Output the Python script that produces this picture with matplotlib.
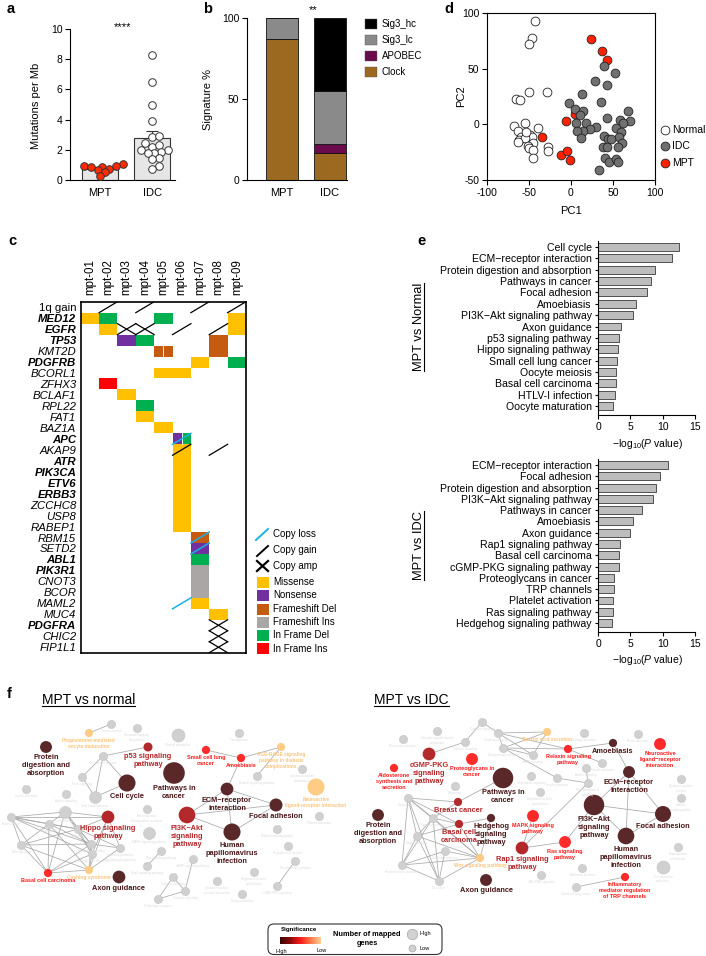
import numpy as np
import matplotlib
matplotlib.use('Agg')
import matplotlib.pyplot as plt
from matplotlib.patches import Rectangle, FancyBboxPatch
from matplotlib.colors import LinearSegmentedColormap

plt.rcParams['font.family'] = ['Liberation Sans', 'DejaVu Sans']
plt.rcParams['mathtext.fontset'] = 'custom'
plt.rcParams['mathtext.rm'] = 'Liberation Sans'
plt.rcParams['mathtext.it'] = 'Liberation Sans:italic'
plt.rcParams['mathtext.bf'] = 'Liberation Sans:bold'
plt.rcParams['axes.unicode_minus'] = False
plt.rcParams['axes.linewidth'] = 0.8
for _a in ('xtick', 'ytick'):
    plt.rcParams[_a + '.major.width'] = 0.8
    plt.rcParams[_a + '.major.size'] = 3
    plt.rcParams[_a + '.labelsize'] = 7.5
    plt.rcParams[_a + '.direction'] = 'out'

# ======================= DATA =======================
# --- panel a: mutations per Mb
mut_groups = ['MPT', 'IDC']
mpt_mut = [1.04, 0.95, 0.88, 0.73, 0.66, 0.85, 0.51, 0.29, 0.90]
idc_mut = [8.3, 6.5, 5.0, 3.93, 2.87, 2.9, 2.43, 2.2, 2.3, 2.0, 1.98, 1.83,
           1.77, 1.8, 1.43, 1.37, 0.93, 0.75]

# --- panel b: signatures (%)
sig_groups = ['MPT', 'IDC']
sig_clock = [87, 16.5]
sig_apobec = [0, 5.5]
sig_lc = [13, 33]
sig_hc = [0, 45]

# --- panel d: PCA
normal_pc1 = [-43.1, -46.3, -49.9, -49.9, -28.4, -65.8, -60.2, -67.8, -63, -54.3, -39.2,
              -59, -61.8, -49, -46.3, -55, -45, -51, -50, -45, -45, -27, -27, -63, -53]
normal_pc2 = [92.5, 77.5, 72, 28.6, 28.9, 22.9, 22, -1.4, -5.6, 1.6, -2.9,
              -11, -14, -9.5, -11, -12.5, -16.4, -19.4, -21.5, -23, -30, -20, -23.6, -15.5, -6.5]
idc_pc1 = [39.6, 52.3, 28.4, 43.1, 12.5, 35.2, -2.2, 4.6, 14.5, 10.5, 5.8, 17.7, 29.2, 22.5,
           13.7, 7.7, 11.7, 42.3, 68.2, 58.3, 70, 61.7, 54, 59, 56.9, 39.6, 43.5, 38.4, 47.5,
           60.2, 56.1, 43.3, 40.4, 45.6, 53.5, 56.1, 33.6]
idc_pc2 = [52, 46, 38.5, 35.2, 27.4, 20.5, 19.6, 13.6, 12.4, 8.5, 1, 1, -2, -4.4,
           -5.6, -5.9, -11.9, 5.5, 12.1, 4, 3.4, 1.6, -3.5, -6.5, -11, -10.4, -13.4, -20.6, -13.4,
           -17, -20.6, -20, -30.5, -33.5, -31.4, -34, -41]
mpt_pc1 = [23.3, 37.2, 42.3, -6.2, 4.6, -34.8, -12.5, -4.6, -1.4]
mpt_pc2 = [76.9, 66.1, 58, 3.1, 9.1, -11, -27.5, -23.9, -32]

# --- panel c: oncoprint
samples = ['mpt-01', 'mpt-02', 'mpt-03', 'mpt-04', 'mpt-05', 'mpt-06', 'mpt-07', 'mpt-08', 'mpt-09']
genes = ['1q gain', 'MED12', 'EGFR', 'TP53', 'KMT2D', 'PDGFRB', 'BCORL1', 'ZFHX3', 'BCLAF1',
         'RPL22', 'FAT1', 'BAZ1A', 'APC', 'AKAP9', 'ATR', 'PIK3CA', 'ETV6', 'ERBB3', 'ZCCHC8',
         'USP8', 'RABEP1', 'RBM15', 'SETD2', 'ABL1', 'PIK3R1', 'CNOT3', 'BCOR', 'MAML2', 'MUC4',
         'PDGFRA', 'CHIC2', 'FIP1L1']
bold_genes = ['MED12', 'EGFR', 'TP53', 'PDGFRB', 'APC', 'ATR', 'PIK3CA', 'ETV6', 'ERBB3',
              'ABL1', 'PIK3R1', 'PDGFRA']
# (gene, sample, type, part: F=full, L=left half, R=right half)
mutations = [
    ('MED12', 'mpt-01', 'Missense', 'F'), ('MED12', 'mpt-02', 'In Frame Del', 'F'),
    ('MED12', 'mpt-05', 'In Frame Del', 'F'), ('MED12', 'mpt-09', 'Missense', 'F'),
    ('EGFR', 'mpt-02', 'Missense', 'F'), ('EGFR', 'mpt-09', 'Missense', 'F'),
    ('TP53', 'mpt-03', 'Nonsense', 'F'), ('TP53', 'mpt-04', 'In Frame Del', 'F'),
    ('TP53', 'mpt-08', 'Frameshift Del', 'F'),
    ('KMT2D', 'mpt-05', 'Frameshift Del', 'L'), ('KMT2D', 'mpt-05', 'Frameshift Del', 'R'),
    ('KMT2D', 'mpt-08', 'Frameshift Del', 'F'),
    ('PDGFRB', 'mpt-07', 'Missense', 'F'), ('PDGFRB', 'mpt-09', 'In Frame Del', 'F'),
    ('BCORL1', 'mpt-05', 'Missense', 'F'), ('BCORL1', 'mpt-06', 'Missense', 'F'),
    ('ZFHX3', 'mpt-02', 'In Frame Ins', 'F'), ('BCLAF1', 'mpt-03', 'Missense', 'F'),
    ('RPL22', 'mpt-04', 'In Frame Del', 'F'), ('FAT1', 'mpt-04', 'Missense', 'F'),
    ('BAZ1A', 'mpt-05', 'Missense', 'F'),
    ('APC', 'mpt-06', 'Nonsense', 'L'), ('APC', 'mpt-06', 'In Frame Del', 'R'),
    ('AKAP9', 'mpt-06', 'Missense', 'F'), ('ATR', 'mpt-06', 'Missense', 'F'),
    ('PIK3CA', 'mpt-06', 'Missense', 'F'), ('ETV6', 'mpt-06', 'Missense', 'F'),
    ('ERBB3', 'mpt-06', 'Missense', 'F'), ('ZCCHC8', 'mpt-06', 'Missense', 'F'),
    ('USP8', 'mpt-06', 'Missense', 'F'), ('RABEP1', 'mpt-06', 'Missense', 'F'),
    ('RBM15', 'mpt-07', 'Frameshift Del', 'F'), ('SETD2', 'mpt-07', 'Nonsense', 'F'),
    ('ABL1', 'mpt-07', 'In Frame Del', 'F'), ('PIK3R1', 'mpt-07', 'Frameshift Ins', 'F'),
    ('CNOT3', 'mpt-07', 'Frameshift Ins', 'F'), ('BCOR', 'mpt-07', 'Frameshift Ins', 'F'),
    ('MAML2', 'mpt-07', 'Missense', 'F'), ('MUC4', 'mpt-08', 'Missense', 'F'),
]
copy_events = [
    ('1q gain', 'mpt-02', 'Copy gain'), ('1q gain', 'mpt-04', 'Copy gain'),
    ('1q gain', 'mpt-07', 'Copy gain'), ('1q gain', 'mpt-09', 'Copy gain'),
    ('EGFR', 'mpt-03', 'Copy amp'), ('EGFR', 'mpt-04', 'Copy amp'),
    ('EGFR', 'mpt-06', 'Copy gain'), ('EGFR', 'mpt-08', 'Copy gain'),
    ('APC', 'mpt-06', 'Copy loss'), ('AKAP9', 'mpt-06', 'Copy gain'),
    ('AKAP9', 'mpt-08', 'Copy gain'), ('RBM15', 'mpt-07', 'Copy loss'),
    ('SETD2', 'mpt-07', 'Copy loss'), ('MAML2', 'mpt-06', 'Copy loss'),
    ('PDGFRA', 'mpt-08', 'Copy amp'), ('CHIC2', 'mpt-08', 'Copy amp'),
    ('FIP1L1', 'mpt-08', 'Copy amp'),
]
mut_types = ['Missense', 'Nonsense', 'Frameshift Del', 'Frameshift Ins', 'In Frame Del', 'In Frame Ins']
cnv_types = ['Copy loss', 'Copy gain', 'Copy amp']

# --- panel e: enrichment
e_normal_terms = ['Cell cycle', 'ECM\u2212receptor interaction', 'Protein digestion and absorption',
                  'Pathways in cancer', 'Focal adhesion', 'Amoebiasis',
                  'PI3K\u2212Akt signaling pathway', 'Axon guidance', 'p53 signaling pathway',
                  'Hippo signaling pathway', 'Small cell lung cancer', 'Oocyte meiosis',
                  'Basal cell carcinoma', 'HTLV-I infection', 'Oocyte maturation']
e_normal_vals = [12.5, 11.45, 8.8, 8.15, 7.5, 5.9, 5.4, 3.6, 3.25, 3.15, 2.9, 2.8, 2.8, 2.6, 2.3]
e_idc_terms = ['ECM\u2212receptor interaction', 'Focal adhesion', 'Protein digestion and absorption',
               'PI3K\u2212Akt signaling pathway', 'Pathways in cancer', 'Amoebiasis', 'Axon guidance',
               'Rap1 signaling pathway', 'Basal cell carcinoma', 'cGMP-PKG signaling pathway',
               'Proteoglycans in cancer', 'TRP channels', 'Platelet activation',
               'Ras signaling pathway', 'Hedgehog signaling pathway']
e_idc_vals = [10.9, 9.6, 9.0, 8.45, 6.8, 5.45, 5.0, 3.45, 3.3, 3.3, 2.5, 2.4, 2.3, 2.3, 2.2]

# --- panel f: networks (layout coordinates, mapped-gene counts, significance class)
n1_label = ['Protein\ndigestion and\nabsorption', 'p53 signaling\npathway', 'Cell cycle',
            'Pathways in\ncancer', 'Small cell lung\ncancer', 'Amoebiasis',
            'ECM\u2212receptor\ninteraction', 'Focal adhesion', 'PI3K\u2212Akt\nsignaling\npathway',
            'Human\npapillomavirus\ninfection', 'Hippo signaling\npathway', 'Basal cell carcinoma',
            'Axon guidance', 'Progesterone-mediated\noocyte maturation',
            'AGE-RAGE signaling\npathway in diabetic\ncomplications',
            'Neuroactive\nligand-receptor interaction', 'Cushing syndrome',
            'Oocyte meiosis', 'Glycosaminoglycan\nbiosynthesis',
            'Mineral absorption', 'Fat digestion', 'Cellular senescence',
            'FoxO signaling', 'Viral carcinogenesis', 'Apelin signaling',
            'Insulin secretion', 'Hepatitis B', 'Breast cancer', 'Gastric cancer', 'Melanoma',
            'Wnt signaling', 'Hedgehog signaling', 'Proteoglycans in cancer',
            'Signaling pathways\nregulating pluripotency', 'Transcriptional\nmisregulation in cancer',
            'MAPK signaling pathway', 'Ras signaling pathway', 'Rap1 signaling pathway',
            'cAMP signaling pathway', 'Calcium signaling', 'Oxytocin signaling',
            'Cholinergic synapse', 'Cytokine\u2212cytokine\nreceptor interaction',
            'Drug metabolism', 'Regulation of actin\ncytoskeleton', 'Dilated cardiomyopathy',
            'Regulation of lipolysis', 'Glutamatergic synapse', 'cGMP-PKG signaling',
            'Platelet activation', 'Inositol phosphate\nmetabolism', 'Relaxin signaling pathway']
n1_x = [46, 148, 127, 174, 206, 241, 227, 276, 187, 232, 108, 48, 119, 89, 281, 316, 89,
        111, 137, 178, 239, 103, 82, 95, 66, 26, 65, 11, 49, 78, 21, 91, 92, 120, 147, 149,
        161, 147, 193, 173, 185, 158, 217, 242, 254, 277, 288, 295, 277, 319, 302, 257]
n1_y = [747, 747, 783, 773, 750, 758, 789, 805, 815, 832, 817, 873, 877, 733, 747, 787, 870,
        724, 728, 735, 733, 756, 777, 797, 794, 789, 812, 817, 824, 829, 845, 844, 854, 848,
        809, 833, 851, 866, 859, 877, 891, 899, 881, 894, 872, 829, 846, 861, 886, 816, 769, 776]
n1_genes = [21, 12, 43, 69, 10, 10, 24, 25, 41, 43, 24, 10, 24, 10, 10, 43, 10,
            10, 10, 25, 10, 10, 10, 21, 10, 10, 21, 10, 10, 10, 10, 10, 10, 10, 10, 21,
            10, 10, 10, 10, 10, 10, 10, 10, 10, 10, 10, 10, 10, 10, 10, 10]
n1_sig = ['dark', 'mid', 'dark', 'dark', 'red', 'red', 'dark', 'dark', 'mid', 'dark', 'mid',
          'red', 'dark', 'low', 'low', 'low', 'low'] + ['ns'] * 35
n1_edges = [(17, 13), (21, 1), (21, 22), (21, 23), (21, 2), (23, 2), (23, 22), (4, 5), (5, 14),
            (14, 51), (5, 6), (6, 8), (6, 7), (6, 9), (8, 7), (8, 9), (9, 7),
            (27, 26), (27, 28), (27, 30), (27, 29), (27, 31), (27, 10), (27, 11), (27, 32),
            (26, 28), (26, 10), (26, 29), (26, 31), (26, 32), (26, 11), (28, 30), (28, 29),
            (28, 31), (28, 11), (28, 16), (30, 11), (30, 29), (30, 31), (29, 31), (29, 10),
            (29, 32), (29, 33), (31, 32), (31, 33), (31, 16), (31, 11), (10, 32), (10, 16),
            (10, 33), (32, 16), (32, 11), (33, 16), (11, 16), (30, 16),
            (36, 37), (38, 40), (39, 40), (39, 41), (41, 40), (47, 48)]

n2_label = ['cGMP-PKG\nsignaling\npathway', 'Aldosterone\nsynthesis and\nsecretion',
            'Proteoglycans in\ncancer', 'Pathways in\ncancer', 'Breast cancer',
            'Hedgehog\nsignaling\npathway', 'Basal cell\ncarcinoma', 'Protein\ndigestion and\nabsorption',
            'Axon guidance', 'Rap1 signaling\npathway', 'MAPK signaling\npathway',
            'Ras signaling\npathway', 'PI3K\u2212Akt\nsignaling\npathway',
            'Human\npapillomavirus\ninfection', 'Focal adhesion', 'ECM\u2212receptor\ninteraction',
            'Amoebiasis', 'Neuroactive\nligand\u2212receptor\ninteraction',
            'Relaxin signaling\npathway', 'Inflammatory\nmediator regulation\nof TRP channels',
            'Gastric acid secretion', 'Wnt signaling pathway',
            'Oxytocin signaling', 'Vascular smooth muscle\ncontraction', 'Pancreatic secretion',
            'Calcium signaling', 'Cholinergic synapse', 'Glutamatergic synapse',
            'cAMP signaling', 'Salivary secretion', 'Renin secretion', 'Platelet activation',
            'Apelin signaling', 'Chemokine signaling', 'Insulin secretion', 'Phospholipase D\nsignaling',
            'Regulation of actin\ncytoskeleton', 'Melanoma', 'Gastric cancer',
            'Signaling pathways', 'Hippo signaling', 'Cushing syndrome',
            'Hepatocellular carcinoma', 'Cell cycle', 'JAK-STAT signaling',
            'Adherens junction', 'Small cell lung cancer', 'Cytokine\u2212cytokine\nreceptor',
            'Dilated\ncardiomyopathy', 'Hematopoietic\ncell lineage', 'Cell adhesion\nmolecules']
n2_x = [429, 394, 472, 503, 458, 491, 459, 378, 486, 522, 533, 565, 594, 626, 663, 629, 613,
        660, 568, 625, 547, 480,
        482, 437, 403, 465, 498, 503, 533, 584, 638, 602, 586, 531, 557, 588, 540, 455, 408,
        433, 417, 445, 402, 439, 541, 582, 576, 681, 681, 678, 663]
n2_y = [754, 768, 759, 778, 802, 818, 824, 815, 880, 848, 816, 842, 805, 836, 814, 772, 743,
        744, 749, 877, 732, 858,
        722, 731, 739, 742, 733, 748, 755, 733, 734, 763, 768, 776, 778, 783, 792, 786, 798,
        818, 836, 851, 865, 881, 875, 868, 887, 779, 798, 847, 867]
n2_genes = [24, 10, 21, 62, 10, 10, 10, 21, 21, 24, 21, 21, 62, 41, 38, 21, 10, 21, 10, 10,
            10, 10] + [10] * 28 + [25]
n2_sig = ['mid', 'red', 'red', 'dark', 'mid', 'dark', 'mid', 'dark', 'dark', 'mid', 'red', 'red',
          'dark', 'dark', 'dark', 'dark', 'dark', 'red', 'red', 'red', 'low', 'low'] + ['ns'] * 29
n2_edges = [(22, 25), (22, 26), (25, 0), (26, 27), (26, 28), (26, 20), (26, 18), (27, 28),
            (27, 20), (27, 18), (27, 34), (28, 20), (18, 16), (18, 31), (16, 15), (32, 35),
            (34, 35), (35, 9), (15, 12), (15, 13), (15, 14), (12, 14), (12, 13), (13, 14),
            (12, 11), (9, 10), (9, 11),
            (38, 39), (38, 40), (38, 42), (38, 43), (38, 4), (38, 6), (38, 21), (39, 40),
            (39, 42), (39, 43), (39, 4), (39, 6), (39, 21), (40, 42), (40, 43), (40, 21),
            (40, 6), (42, 43), (42, 21), (41, 43), (41, 21), (41, 42), (43, 21), (6, 5),
            (4, 3), (6, 21), (5, 21), (46, 19)]

# ======================= FIGURE =======================
W, H = 706, 956
fig = plt.figure(figsize=(W / 100, H / 100), dpi=100)


def axpx(l, t, r, b):
    return fig.add_axes([l / W, 1 - b / H, (r - l) / W, (b - t) / H])


ov = fig.add_axes([0, 0, 1, 1], zorder=10)
ov.set_xlim(0, W)
ov.set_ylim(H, 0)
ov.axis('off')
ov.patch.set_alpha(0)

for lab, (x, y) in zip('abcdef', [(7, 9), (203, 9), (8, 241), (444, 9), (417, 241), (7, 694)]):
    ov.text(x, y, lab, fontsize=10.5, fontweight='bold', ha='left', va='center')

# ---------------- panel a ----------------
axa = axpx(70, 29, 175, 180)
pos = np.arange(len(mut_groups))
groups_a = [mpt_mut, idc_mut]
means = [np.mean(v) for v in groups_a]
sems = [np.std(v, ddof=1) / np.sqrt(len(v)) for v in groups_a]
axa.bar(pos, means, width=0.7, color='#e6e6e6', edgecolor='#333333', linewidth=0.8, zorder=1)
axa.errorbar(pos, means, yerr=[[0, 0], sems], fmt='none', ecolor='#333333', elinewidth=0.8,
             capsize=4.5, capthick=0.8, zorder=2)


def swarm(vals, xscale, yscale, diam, overlap):
    vals = np.asarray(vals, float)
    order = np.argsort(vals)
    placed = []
    out = np.zeros(len(vals))
    cands = [0.0]
    for k in range(1, 60):
        cands += [k * diam * 0.3, -k * diam * 0.3]
    for i in order:
        y = vals[i] * yscale
        for c in cands:
            if all((c - px) ** 2 + (y - py) ** 2 >= (diam * overlap) ** 2 for px, py in placed):
                break
        placed.append((c, y))
        out[i] = c / xscale
    return out


face_a = ['#ff2a00', 'white']
overlap_a = [0.72, 0.8]
for i, v in enumerate(groups_a):
    off = swarm(v, 52.0, 15.1, 7.6, overlap_a[i])
    axa.scatter(pos[i] + off, v, s=30, facecolor=face_a[i], edgecolor='#333333', linewidth=0.7, zorder=3)
axa.set_xlim(-0.577, 1.44)
axa.set_ylim(0, 10)
axa.set_yticks([0, 2, 4, 6, 8, 10])
axa.set_xticks(pos)
axa.set_xticklabels(mut_groups, fontsize=8)
axa.tick_params(axis='x', length=0, pad=6)
axa.tick_params(axis='y', length=3.5, pad=2)
for s in ('top', 'right'):
    axa.spines[s].set_visible(False)
ov.text(36, 106, 'Mutations per Mb', rotation=90, fontsize=8, ha='center', va='center')
ov.text(123, 27, '****', fontsize=8, ha='center', va='center')

# ---------------- panel b ----------------
axb = axpx(247, 18, 347, 180)
pb = np.arange(len(sig_groups))
bw = 0.667
bottom = np.zeros(2)
sig_layers = [('Clock', sig_clock, '#9b6a20'), ('APOBEC', sig_apobec, '#6b0a4c'),
              ('Sig3_lc', sig_lc, '#8a8a8a'), ('Sig3_hc', sig_hc, '#000000')]
for name, vals, col in sig_layers:
    axb.bar(pb, vals, bottom=bottom, width=bw, color=col, edgecolor='#111111', linewidth=0.6)
    bottom += np.array(vals)
axb.set_xlim(-0.73, 1.354)
axb.set_ylim(0, 100)
axb.set_yticks([0, 50, 100])
axb.set_xticks(pb)
axb.set_xticklabels(sig_groups, fontsize=8)
axb.tick_params(axis='x', length=0, pad=6)
axb.tick_params(axis='y', length=3.5, pad=2)
for s in ('top', 'right'):
    axb.spines[s].set_visible(False)
ov.text(208, 99, 'Signature %', rotation=90, fontsize=8, ha='center', va='center')
ov.text(313, 10, '**', fontsize=8, ha='center', va='center')
for k, (name, vals, col) in enumerate(reversed(sig_layers)):
    yy = 24 + k * 16
    ov.add_patch(Rectangle((365, yy - 5), 12, 10, facecolor=col, edgecolor='#555555', linewidth=0.3))
    ov.text(382, yy, name, fontsize=7, ha='left', va='center')

# ---------------- panel d ----------------
axd = axpx(487, 13, 655, 180)
axd.scatter(normal_pc1, normal_pc2, s=40, facecolor='white', edgecolor='#222222', linewidth=0.6, zorder=2)
axd.scatter(mpt_pc1, mpt_pc2, s=40, facecolor='#ff2200', edgecolor='#222222', linewidth=0.6, zorder=3)
axd.scatter(idc_pc1, idc_pc2, s=40, facecolor='#707070', edgecolor='#222222', linewidth=0.6, zorder=4)
axd.set_xlim(-100, 100)
axd.set_ylim(-50, 100)
axd.set_xticks([-100, -50, 0, 50, 100])
axd.set_yticks([-50, 0, 50, 100])
axd.tick_params(length=3.5, pad=2)
ov.text(571, 211, 'PC1', fontsize=8, ha='center', va='center')
ov.text(461, 96, 'PC2', rotation=90, fontsize=8, ha='center', va='center')
for k, (nm, fc) in enumerate([('Normal', 'white'), ('IDC', '#707070'), ('MPT', '#ff2200')]):
    yy = 130 + k * 16.3
    ov.scatter([665], [yy], s=40, facecolor=fc, edgecolor='#222222', linewidth=0.6)
    ov.text(672, yy, nm, fontsize=7.5, ha='left', va='center')

# ---------------- panel c ----------------
mut_colors = {'Missense': '#ffc000', 'Nonsense': '#7030a0', 'Frameshift Del': '#c55a11',
              'Frameshift Ins': '#aba6a6', 'In Frame Del': '#00b050', 'In Frame Ins': '#ff0000'}
axc = axpx(80.7, 301.7, 246, 652.7)
axc.set_xlim(0, len(samples))
axc.set_ylim(len(genes), 0)
for g, smp, t, part in mutations:
    r = genes.index(g)
    c = samples.index(smp)
    x0 = c + (0.5 if part == 'R' else 0)
    w = 1 if part == 'F' else 0.5
    axc.add_patch(Rectangle((x0, r), w, 1, facecolor=mut_colors[t], edgecolor='none', zorder=1))
    if part == 'R':
        axc.plot([c + 0.5, c + 0.5], [r, r + 1], color='white', lw=0.6, zorder=1.5)
for g, smp, t in copy_events:
    r = genes.index(g)
    c = samples.index(smp)
    if t == 'Copy gain':
        axc.plot([c, c + 1], [r + 1, r], color='black', lw=0.9, zorder=2)
    elif t == 'Copy loss':
        axc.plot([c, c + 1], [r + 1, r], color='#1ab0e8', lw=1.1, zorder=2)
    else:
        axc.plot([c, c + 1], [r + 1, r], color='black', lw=0.9, zorder=2)
        axc.plot([c, c + 1], [r, r + 1], color='black', lw=0.9, zorder=2)
for s in axc.spines.values():
    s.set_linewidth(1.2)
axc.set_xticks(np.arange(len(samples)) + 0.5)
axc.set_xticklabels(samples, rotation=90, fontsize=8.3)
axc.xaxis.tick_top()
axc.tick_params(axis='x', length=0, pad=4.5)
axc.set_yticks(np.arange(len(genes)) + 0.5)
axc.set_yticklabels(genes, fontsize=8.2)
axc.tick_params(axis='y', length=0, pad=3.2)
for tl in axc.get_yticklabels():
    if tl.get_text() != '1q gain':
        tl.set_style('italic')
    if tl.get_text() in bold_genes:
        tl.set_weight('bold')
# legend c
leg_y = [534, 550, 566, 582, 595.5, 609, 622, 635.5, 648.5]
for k, t in enumerate(cnv_types + mut_types):
    yy = leg_y[k]
    if t == 'Copy loss':
        ov.plot([256, 268], [yy + 6, yy - 5], color='#1ab0e8', lw=1.4)
    elif t == 'Copy gain':
        ov.plot([257, 268], [yy + 6, yy - 4], color='black', lw=1.4)
    elif t == 'Copy amp':
        ov.plot([257, 268], [yy - 5, yy + 5], color='black', lw=1.6)
        ov.plot([257, 268], [yy + 5, yy - 5], color='black', lw=1.6)
    else:
        ov.add_patch(Rectangle((257, yy - 5.5), 11.5, 11, facecolor=mut_colors[t], edgecolor='none'))
    ov.text(273, yy, t, fontsize=7, ha='left', va='center')

# ---------------- panel e ----------------
def enrich(ax, terms, vals):
    yy = np.arange(len(terms))
    ax.barh(yy, vals, height=0.7, color='#bdbdbd', edgecolor='#3a3a3a', linewidth=0.6)
    ax.set_ylim(14.79, -0.53)
    ax.set_xlim(0, 15)
    ax.set_yticks(yy)
    ax.set_yticklabels(terms, fontsize=7.6)
    ax.set_xticks([0, 5, 10, 15])
    ax.tick_params(axis='y', length=2.5, pad=2)
    ax.tick_params(axis='x', length=3, pad=2)
    for s in ('top', 'right'):
        ax.spines[s].set_visible(False)


axe1 = axpx(598, 241, 695, 415)
enrich(axe1, e_normal_terms, e_normal_vals)
axe2 = axpx(598, 459, 695, 632)
enrich(axe2, e_idc_terms, e_idc_vals)
xlab = r'$\mathrm{-log}_{10}\mathrm{(}\mathit{P}\mathrm{\ value)}$'
ov.text(648, 444, xlab, fontsize=7.5, ha='center', va='center')
ov.text(648, 660, xlab, fontsize=7.5, ha='center', va='center')
side1 = ov.text(419, 327, 'MPT vs Normal', rotation=90, fontsize=9.3, ha='center', va='center')
side2 = ov.text(419, 545, 'MPT vs IDC', rotation=90, fontsize=9.3, ha='center', va='center')

# ---------------- panel f ----------------
sig_colors = {'dark': '#5a2828', 'mid': '#b3292b', 'red': '#ff2b2b', 'low': '#ffcc85', 'ns': '#d0d0d0'}
lab_colors = {'dark': '#4a1616', 'mid': '#b5262a', 'red': '#ff1a1a', 'low': '#ffc47a', 'ns': '#dadada'}
lab_size = {'dark': 5.3, 'mid': 5.3, 'red': 4.0, 'low': 3.4, 'ns': 2.2}
rank = {'ns': 0, 'low': 1, 'red': 2, 'mid': 3, 'dark': 4}


def draw_net(labels, xs, ys, ngenes, sigs, edges):
    xs = np.asarray(xs, float)
    ys = np.asarray(ys, float)
    for i, j in edges:
        ov.plot([xs[i], xs[j]], [ys[i], ys[j]], color='#a8a8a8', lw=0.55, zorder=2)
    rad = 1.3 * np.sqrt(np.asarray(ngenes, float))
    order = sorted(range(len(xs)), key=lambda k: rank[sigs[k]])
    for k in order:
        ov.scatter([xs[k]], [ys[k]], s=(2 * rad[k] * 0.72) ** 2, facecolor=sig_colors[sigs[k]],
                   edgecolor='#c4c4c4' if sigs[k] == 'ns' else 'none', linewidth=0.4,
                   zorder=3 + rank[sigs[k]] * 0.01)
    for k in order:
        ov.text(xs[k], ys[k] + rad[k] + 1.2, labels[k], ha='center', va='top',
                fontsize=lab_size[sigs[k]], color=lab_colors[sigs[k]],
                fontweight='normal' if sigs[k] == 'ns' else 'bold', linespacing=1.2,
                zorder=3.5 + rank[sigs[k]] * 0.01)


draw_net(n1_label, n1_x, n1_y, n1_genes, n1_sig, n1_edges)
draw_net(n2_label, n2_x, n2_y, n2_genes, n2_sig, n2_edges)
t1 = ov.text(42, 700, 'MPT vs normal', fontsize=10, ha='left', va='center')
t2 = ov.text(374, 700, 'MPT vs IDC', fontsize=10, ha='left', va='center')

# legend box
ov.add_patch(FancyBboxPatch((268, 924), 174, 30.5, boxstyle='round,pad=0,rounding_size=6',
                            facecolor='white', edgecolor='#333333', linewidth=0.8, zorder=5))
ov.text(299, 929.5, 'Significance', fontsize=4.4, fontweight='bold', ha='center', va='center', zorder=6)
cmap_f = LinearSegmentedColormap.from_list('sig', ['#3a0303', '#8c0a0a', '#ff1a1a', '#ff7a4a', '#ffd199'])
ov.imshow(np.linspace(0, 1, 256)[None, :], cmap=cmap_f, extent=(280, 321, 944, 937), aspect='auto', zorder=6)
ov.text(275, 951, 'High', fontsize=4, ha='left', va='center', zorder=6)
ov.text(327, 951, 'Low', fontsize=4, ha='right', va='center', zorder=6)
ov.text(367, 939, 'Number of mapped\ngenes', fontsize=5.3, fontweight='bold', ha='center', va='center',
        linespacing=1.3, zorder=6)
ov.scatter([412], [934], s=(2 * 5.3 * 0.72) ** 2, facecolor='#d2d2d2', edgecolor='#9a9a9a', linewidth=0.4, zorder=6)
ov.scatter([412], [948], s=(2 * 3.5 * 0.72) ** 2, facecolor='#d2d2d2', edgecolor='#9a9a9a', linewidth=0.4, zorder=6)
ov.text(420, 934, 'High', fontsize=4, ha='left', va='center', zorder=6)
ov.text(420, 948, 'Low', fontsize=4, ha='left', va='center', zorder=6)

ov.set_xlim(0, W)
ov.set_ylim(H, 0)

# underlines
fig.canvas.draw()
rend = fig.canvas.get_renderer()
inv = ov.transData.inverted()
for t in (t1, t2):
    bb = t.get_window_extent(rend)
    (x0, y0), (x1, y1) = inv.transform([(bb.x0, bb.y0), (bb.x1, bb.y1)])
    ov.plot([x0, x1], [max(y0, y1) - 1.0, max(y0, y1) - 1.0], color='black', lw=0.8)
for t in (side1, side2):
    bb = t.get_window_extent(rend)
    (x0, y0), (x1, y1) = inv.transform([(bb.x0, bb.y0), (bb.x1, bb.y1)])
    ov.plot([x1 - 1.0, x1 - 1.0], [y0, y1], color='black', lw=0.8)
ov.set_xlim(0, W)
ov.set_ylim(H, 0)

fig.savefig('out.png', dpi=100)
